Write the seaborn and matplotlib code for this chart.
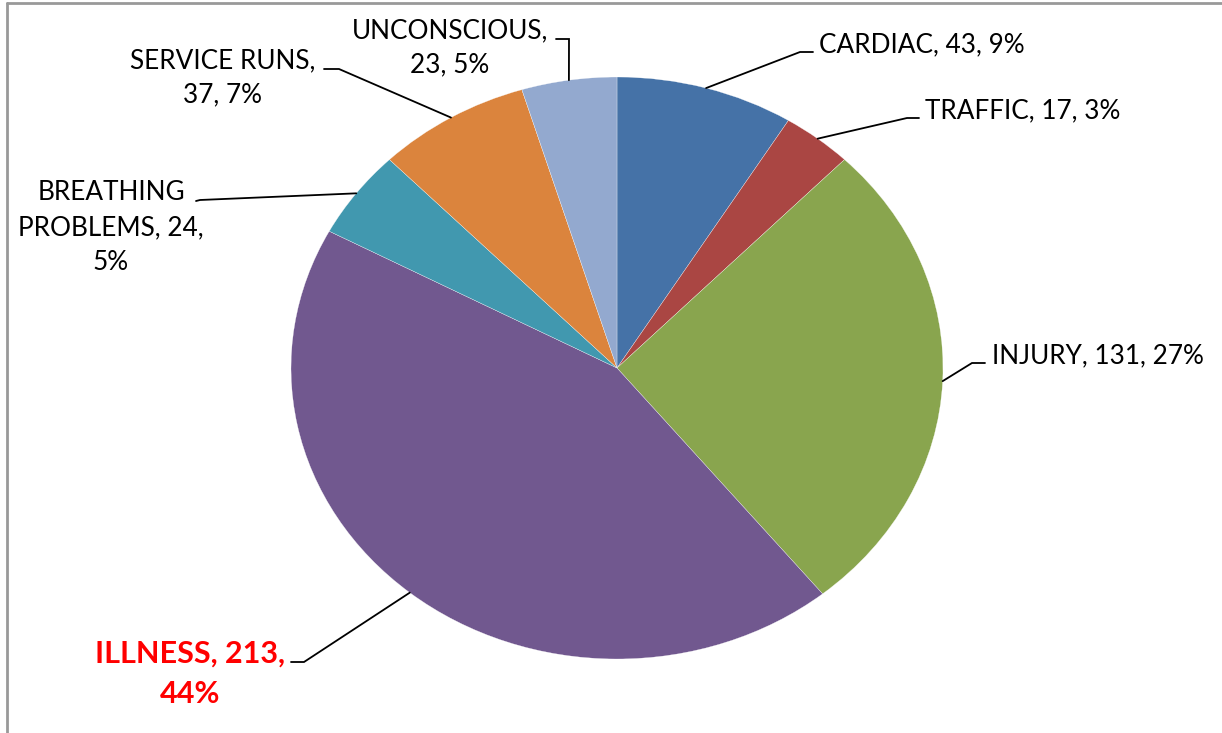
import numpy as np
import matplotlib
matplotlib.use("Agg")
import matplotlib.pyplot as plt
import seaborn as sns

# ---- data ----
categories = ["CARDIAC", "TRAFFIC", "INJURY", "ILLNESS", "BREATHING PROBLEMS", "SERVICE RUNS", "UNCONSCIOUS"]
counts = [43, 17, 131, 213, 24, 37, 23]
percents = [9, 3, 27, 44, 5, 7, 5]
colors = ["#4572A7", "#AA4643", "#89A54E", "#71588F", "#4198AF", "#DB843D", "#93A9CF"]

# label text, split into lines as in the reference
label_lines = [
    ["CARDIAC, 43, 9%"],
    ["TRAFFIC, 17, 3%"],
    ["INJURY, 131, 27%"],
    ["ILLNESS, 213,", "44%"],
    ["BREATHING", "PROBLEMS, 24,", "5%"],
    ["SERVICE RUNS,", "37, 7%"],
    ["UNCONSCIOUS,", "23, 5%"],
]

sns.set_theme(style="white")
plt.rcParams["font.family"] = ["Lato", "DejaVu Sans"]

W, H = 1222, 733
fig = plt.figure(figsize=(W / 100, H / 100), dpi=100)
ax = fig.add_axes([0, 0, 1, 1])

CX, CY, RX, RY = 617, 368, 326, 291

def px(x, y):
    return (x - CX) / RX, (CY - y) / RY

wedges, _ = ax.pie(counts, colors=colors, startangle=90, counterclock=False,
                   radius=1, wedgeprops=dict(linewidth=0.2, edgecolor="white"))
ax.set_aspect("auto")
ax.set_xlim((0 - CX) / RX, (W - CX) / RX)
ax.set_ylim((CY - H) / RY, CY / RY)
ax.axis("off")

# layout of leader lines and labels (pixel positions)
layout = [
    dict(elbow=(800, 52), end=(813, 52), tx=819, ha="left", base=[52]),
    dict(elbow=(907, 118), end=(919, 118), tx=925, ha="left", base=[118]),
    dict(elbow=(972, 363), end=(985, 363), tx=992, ha="left", base=[363]),
    dict(elbow=(304, 662), end=(291, 662), tx=190, ha="center", base=[663, 703]),
    dict(elbow=(200, 200), end=(196, 201), tx=111, ha="center", base=[200, 235, 270]),
    dict(elbow=(339, 69), end=(324, 69), tx=223, ha="center", base=[68, 102]),
    dict(elbow=(569, 39), end=(556, 39), tx=450, ha="center", base=[38, 72]),
]

for w, lines, lay, cat in zip(wedges, label_lines, layout, categories):
    mid = np.deg2rad((w.theta1 + w.theta2) / 2)
    ax_pt = (np.cos(mid), np.sin(mid))
    e = px(*lay["elbow"])
    n = px(*lay["end"])
    ax.plot([ax_pt[0], e[0], n[0]], [ax_pt[1], e[1], n[1]], color="black", lw=1.3,
            solid_joinstyle="miter")
    is_ill = cat == "ILLNESS"
    for line, b in zip(lines, lay["base"]):
        x, y = px(lay["tx"], b)
        ax.text(x, y, line, ha=lay["ha"], va="baseline",
                fontsize=22 if is_ill else 18.8,
                fontweight="bold" if is_ill else "normal",
                color="#FF0000" if is_ill else "black")

# chart frame (left and top borders)
fig.add_artist(plt.Line2D([7 / W, 7 / W], [0, 1 - 3 / H], transform=fig.transFigure,
                          color="#999999", lw=2))
fig.add_artist(plt.Line2D([7 / W, 1], [1 - 3 / H, 1 - 3 / H], transform=fig.transFigure,
                          color="#999999", lw=2))

fig.savefig("out.png", dpi=100, facecolor="white")
